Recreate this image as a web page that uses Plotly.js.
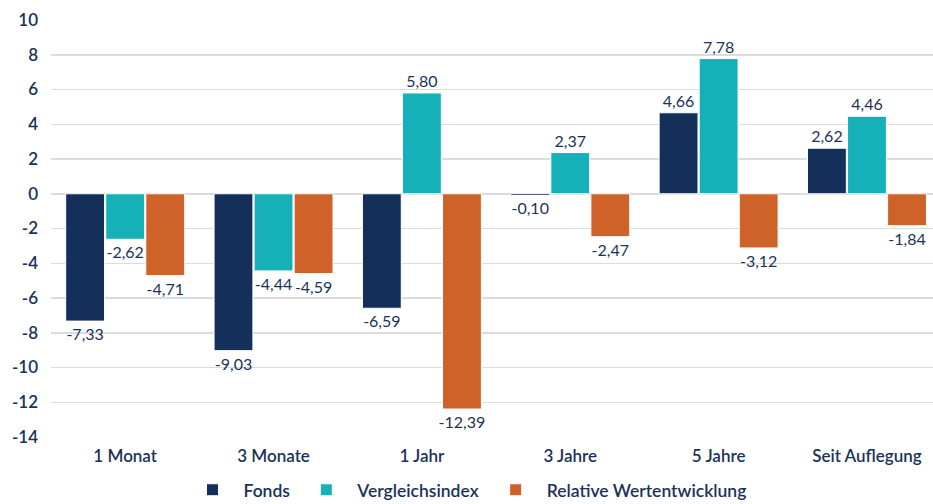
<!DOCTYPE html>
<html><head><meta charset="utf-8">
<script src="https://cdn.plot.ly/plotly-3.0.1.min.js"></script>
<style>html,body{margin:0;padding:0;background:#fff;overflow:hidden}</style>
</head><body>
<div id="chart" style="width:933px;height:504px"></div>
<script>
const categories = ["1 Monat", "3 Monate", "1 Jahr", "3 Jahre", "5 Jahre", "Seit Auflegung"];
const fonds = [-7.33, -9.03, -6.59, -0.10, 4.66, 2.62];
const vergleichsindex = [-2.62, -4.44, 5.80, 2.37, 7.78, 4.46];
const relative = [-4.71, -4.59, -12.39, -2.47, -3.12, -1.84];
const yTicks = [10, 8, 6, 4, 2, 0, -2, -4, -6, -8, -10, -12, -14];
const yTickLabels = ["10", "8", "6", "4", "2", "0", "-2", "-4", "-6", "-8", "-10", "-12", "-14"];

const fmt = v => v.toFixed(2).replace('.', ',');
const navy = '#14305a', teal = '#15b0b8', orange = '#cf6229', txt = '#1b3258';
const font = 'Lato, "Open Sans", sans-serif';

function tr(name, vals, color) {
  return {
    type: 'bar', name: name, x: categories, y: vals,
    text: vals.map(fmt), textposition: 'outside', cliponaxis: false, constraintext: 'none',
    textfont: {family: font, size: 16, color: txt},
    marker: {color: color, line: {color: '#ffffff', width: 1}},
    hoverinfo: 'none'
  };
}

const data = [tr('Fonds', fonds, navy), tr('Vergleichsindex', vergleichsindex, teal), tr('Relative Wertentwicklung', relative, orange)];
const layout = {
  width: 933, height: 504,
  margin: {l: 51, r: 0, t: 20, b: 67, autoexpand: false},
  paper_bgcolor: '#fff', plot_bgcolor: '#fff',
  barmode: 'group', bargap: 0.19, bargroupgap: 0.03,
  font: {family: font, color: txt},
  xaxis: {range: [-0.5, 5.445], tickfont: {family: font, size: 17, color: txt, weight: 600}, showgrid: false, zeroline: false, ticks: '', ticklabelstandoff: 7, fixedrange: true},
  yaxis: {range: [-14, 10], tickvals: yTicks, ticktext: yTickLabels, tickfont: {family: font, size: 17, color: txt, weight: 600},
          showgrid: true, gridcolor: '#dcdcdc', gridwidth: 1.5, zeroline: true, zerolinecolor: '#dcdcdc', zerolinewidth: 1.5,
          ticks: '', ticklabelstandoff: 12, fixedrange: true},
  showlegend: true,
  legend: {orientation: 'h', x: 0.5, xanchor: 'center', xref: 'container', yref: 'container', y: 0.028, yanchor: 'middle', font: {family: font, size: 17.5, color: txt, weight: 600}, itemwidth: 52, traceorder: 'normal'}
};
Plotly.newPlot('chart', data, layout, {displayModeBar: false, staticPlot: true});
</script>
</body></html>
